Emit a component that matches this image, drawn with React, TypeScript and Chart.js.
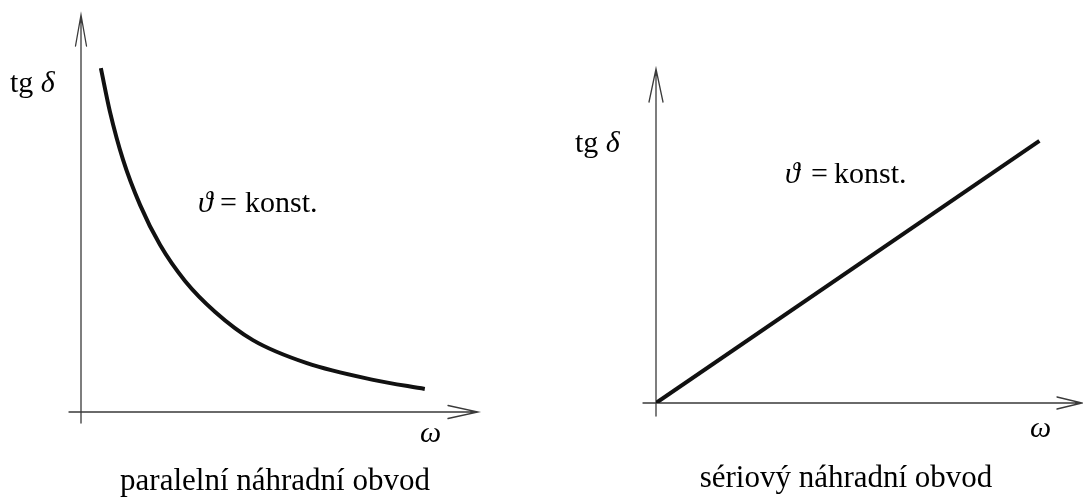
import React, { useEffect, useRef } from "react";
import { Chart, registerables } from "chart.js";

Chart.register(...registerables);

// Parallel equivalent circuit: loss tangent falls with angular frequency
const parallelOmega = [0.5, 0.73, 1.06, 1.49, 1.99, 2.62, 3.38, 4.33, 5.69, 7.36, 8.66];
const parallelTanDelta = [8.66, 7.56, 6.35, 5.21, 4.21, 3.3, 2.52, 1.81, 1.23, 0.81, 0.58];

// Series equivalent circuit: loss tangent rises linearly with angular frequency
const seriesOmega = [0, 9];
const seriesTanDelta = [0, 7.85];

const axisMax = 10;

const SERIF = '"Liberation Serif", "Times New Roman", "DejaVu Serif", serif';

type Part = { text: string; italic?: boolean; dx?: number };
type Label = { parts: Part[]; x: number; y: number; size: number; align?: "left" | "center" };

type PanelConfig = {
  omega: number[];
  tan: number[];
  width: number;
  height: number;
  left: number;
  padding: { left: number; right: number; top: number; bottom: number };
  xExtend: number; // axis line continues past origin on the left
  yExtend: number; // axis line continues past origin downward
  yHead: { len: number; half: number };
  xHead: { len: number; half: number };
  labels: Label[];
};

const arrowAxesPlugin = {
  id: "arrowAxes",
  beforeDatasetsDraw(chart: any, _args: any, opts: any) {
    const { ctx } = chart;
    const xs = chart.scales.x;
    const ys = chart.scales.y;
    const ox = xs.getPixelForValue(0);
    const oy = ys.getPixelForValue(0);
    const xEnd = xs.getPixelForValue(xs.max);
    const yEnd = ys.getPixelForValue(ys.max);
    ctx.save();
    ctx.strokeStyle = "#3a3a3a";
    ctx.lineWidth = 1.3;
    ctx.lineCap = "round";
    // vertical axis with open arrowhead
    ctx.beginPath();
    ctx.moveTo(ox, oy + opts.yExtend);
    ctx.lineTo(ox, yEnd);
    ctx.moveTo(ox - opts.yHead.half, yEnd + opts.yHead.len);
    ctx.lineTo(ox, yEnd);
    ctx.lineTo(ox + opts.yHead.half, yEnd + opts.yHead.len);
    ctx.stroke();
    // horizontal axis with open arrowhead
    ctx.beginPath();
    ctx.moveTo(ox - opts.xExtend, oy);
    ctx.lineTo(xEnd, oy);
    ctx.moveTo(xEnd - opts.xHead.len, oy - opts.xHead.half);
    ctx.lineTo(xEnd, oy);
    ctx.lineTo(xEnd - opts.xHead.len, oy + opts.xHead.half);
    ctx.stroke();
    ctx.restore();
  },
};

const labelsPlugin = {
  id: "panelLabels",
  afterDraw(chart: any, _args: any, opts: any) {
    const { ctx } = chart;
    ctx.save();
    ctx.fillStyle = "#000";
    ctx.textBaseline = "alphabetic";
    ctx.textAlign = "left";
    for (const lab of opts.labels as Label[]) {
      const fontFor = (p: Part) => `${p.italic ? "italic " : ""}${lab.size}px ${SERIF}`;
      let total = 0;
      for (const p of lab.parts) {
        ctx.font = fontFor(p);
        total += ctx.measureText(p.text).width;
      }
      const start = lab.align === "center" ? lab.x - total / 2 : lab.x;
      let x = start;
      for (const p of lab.parts) {
        ctx.font = fontFor(p);
        if (p.dx !== undefined) x = start + p.dx;
        ctx.fillText(p.text, x, lab.y);
        x += ctx.measureText(p.text).width;
      }
    }
    ctx.restore();
  },
};

function Panel({ cfg }: { cfg: PanelConfig }) {
  const ref = useRef<HTMLCanvasElement | null>(null);
  useEffect(() => {
    if (!ref.current) return;
    const points = cfg.omega.map((w, i) => ({ x: w, y: cfg.tan[i] }));
    const chart = new Chart(ref.current, {
      type: "scatter",
      data: {
        datasets: [
          {
            data: points,
            showLine: true,
            borderColor: "#111",
            borderWidth: 4,
            pointRadius: 0,
            cubicInterpolationMode: "monotone",
            borderCapStyle: "butt",
          } as any,
        ],
      },
      options: {
        responsive: false,
        maintainAspectRatio: false,
        devicePixelRatio: 1,
        animation: false,
        events: [],
        layout: { padding: cfg.padding },
        scales: {
          x: { type: "linear", min: 0, max: axisMax, display: false },
          y: { type: "linear", min: 0, max: axisMax, display: false },
        },
        plugins: {
          legend: { display: false },
          tooltip: { enabled: false },
          arrowAxes: {
            xExtend: cfg.xExtend,
            yExtend: cfg.yExtend,
            yHead: cfg.yHead,
            xHead: cfg.xHead,
          },
          panelLabels: { labels: cfg.labels },
        } as any,
      },
      plugins: [arrowAxesPlugin, labelsPlugin],
    });
    return () => chart.destroy();
  }, [cfg]);
  return (
    <canvas
      ref={ref}
      width={cfg.width}
      height={cfg.height}
      style={{ position: "absolute", left: cfg.left, top: 0, width: cfg.width, height: cfg.height, display: "block" }}
    />
  );
}

const leftPanel: PanelConfig = {
  omega: parallelOmega,
  tan: parallelTanDelta,
  width: 541,
  height: 499,
  left: 0,
  padding: { left: 81, right: 63, top: 15, bottom: 87 },
  xExtend: 12,
  yExtend: 11,
  yHead: { len: 31, half: 5.5 },
  xHead: { len: 30, half: 6.5 },
  labels: [
    { parts: [{ text: "tg " }, { text: "δ", italic: true }], x: 10, y: 92, size: 30 },
    {
      parts: [{ text: "ϑ", italic: true }, { text: "=", dx: 22 }, { text: "konst.", dx: 47 }],
      x: 198,
      y: 212,
      size: 30,
    },
    { parts: [{ text: "ω", italic: true }], x: 420, y: 442, size: 30 },
    { parts: [{ text: "paralelní náhradní obvod" }], x: 275, y: 490, size: 31, align: "center" },
  ],
};

const rightPanel: PanelConfig = {
  omega: seriesOmega,
  tan: seriesTanDelta,
  width: 542,
  height: 499,
  left: 541,
  padding: { left: 115, right: 1, top: 69, bottom: 96 },
  xExtend: 13,
  yExtend: 13,
  yHead: { len: 33, half: 7 },
  xHead: { len: 25, half: 6 },
  labels: [
    { parts: [{ text: "tg " }, { text: "δ", italic: true }], x: 34, y: 152, size: 30 },
    {
      parts: [{ text: "ϑ", italic: true }, { text: "=", dx: 26 }, { text: "konst.", dx: 49 }],
      x: 244,
      y: 183,
      size: 30,
    },
    { parts: [{ text: "ω", italic: true }], x: 489, y: 437, size: 30 },
    { parts: [{ text: "sériový náhradní obvod" }], x: 305, y: 487, size: 31, align: "center" },
  ],
};

export default function App() {
  return (
    <div style={{ position: "fixed", left: 0, top: 0, width: 1083, height: 499, background: "#fff", overflow: "hidden" }}>
      <Panel cfg={leftPanel} />
      <Panel cfg={rightPanel} />
    </div>
  );
}
